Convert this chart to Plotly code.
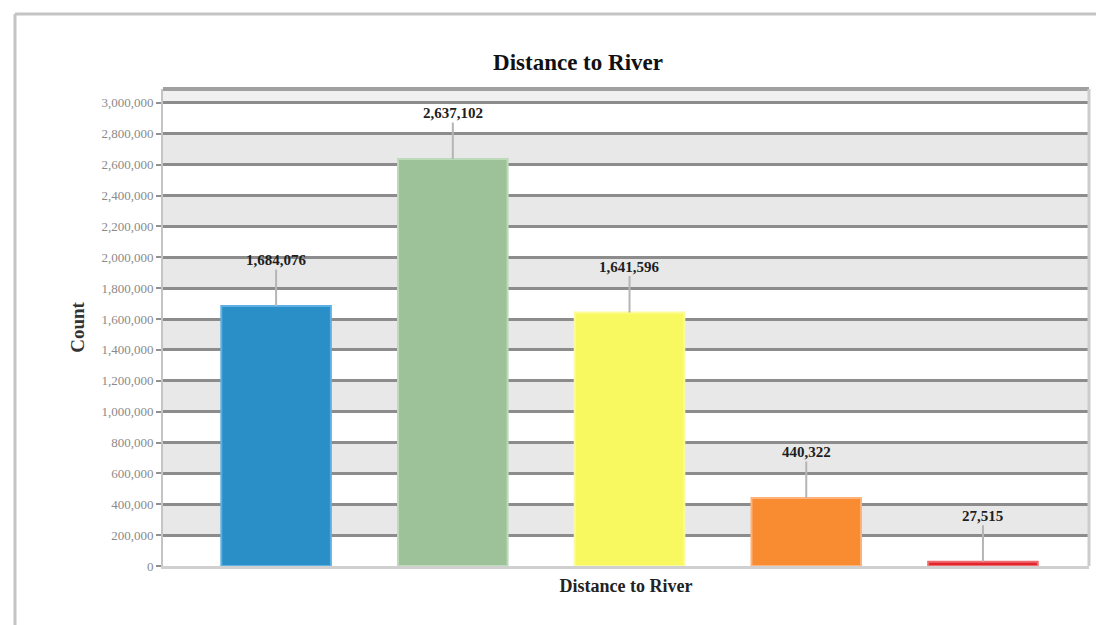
import plotly.graph_objects as go

# ---- data ----
categories = ["Class 1", "Class 2", "Class 3", "Class 4", "Class 5"]
counts = [1684076, 2637102, 1641596, 440322, 27515]
bar_colors = ["#2a8fc6", "#9dc29a", "#f8f860", "#f98c31", "#e0262c"]
edge_colors = ["#5cb0e2", "#bddbbb", "#fbfb9a", "#fdb37a", "#f06a6e"]
tick_vals = [0, 200000, 400000, 600000, 800000, 1000000, 1200000, 1400000,
             1600000, 1800000, 2000000, 2200000, 2400000, 2600000, 2800000, 3000000]
y_max = 3090000

W, H = 1096, 625
ML, MR, MT, MB = 163, 7, 89, 59

fig = go.Figure()
fig.add_trace(go.Bar(
    x=categories, y=counts, width=0.62,
    marker=dict(color=bar_colors, line=dict(color=edge_colors, width=2)),
    showlegend=False, hoverinfo="x+y",
))

shapes = []
# alternating light bands
for i in range(len(tick_vals) - 1):
    if i % 2 == 1:
        shapes.append(dict(type="rect", xref="paper", yref="y", x0=0, x1=1,
                           y0=tick_vals[i], y1=tick_vals[i + 1],
                           fillcolor="#e8e8e8", line=dict(width=0), layer="below"))
shapes.append(dict(type="rect", xref="paper", yref="y", x0=0, x1=1,
                   y0=tick_vals[-1], y1=y_max,
                   fillcolor="#f0f0f0", line=dict(width=0), layer="below"))
# plot frame: top and right
shapes.append(dict(type="line", xref="paper", yref="paper", x0=0, x1=1, y0=1, y1=1,
                   line=dict(color="#a0a0a0", width=4)))
shapes.append(dict(type="line", xref="paper", yref="paper", x0=1, x1=1, y0=0, y1=1,
                   line=dict(color="#cccccc", width=3)))
# outer card frame (left + top)
pw = W - ML - MR
ph = H - MT - MB
fx = (15 - ML) / pw
fy_top = 1 + (MT - 14) / ph
fy_bot = -(MB) / ph
shapes.append(dict(type="line", xref="paper", yref="paper", x0=fx, x1=fx,
                   y0=fy_bot, y1=fy_top, line=dict(color="#c4c4c4", width=3)))
shapes.append(dict(type="line", xref="paper", yref="paper", x0=fx, x1=1 + (MR + 10) / pw,
                   y0=fy_top, y1=fy_top, line=dict(color="#c4c4c4", width=3)))

annotations = []
for c, v in zip(categories, counts):
    annotations.append(dict(
        x=c, y=v, xref="x", yref="y", text=f"<b>{v:,}</b>",
        showarrow=True, arrowhead=0, arrowwidth=2, arrowcolor="#b5b5b5",
        ax=0, ay=-46, standoff=0,
        font=dict(family="Liberation Serif", size=15, color="#1e1e1e"),
    ))

fig.update_layout(
    width=W, height=H,
    margin=dict(l=ML, r=MR, t=MT, b=MB),
    paper_bgcolor="white", plot_bgcolor="white",
    title=dict(text="<b>Distance to River</b>", x=578 / W, xref="container", xanchor="center",
               y=1 - 62 / H, yref="container", yanchor="middle",
               font=dict(family="Liberation Serif", size=23, color="#111111")),
    xaxis=dict(range=[-0.64, 4.6], showticklabels=False, ticks="", showgrid=False,
               showline=True, linecolor="#d0d0d0", linewidth=3, zeroline=False,
               title=dict(text="<b>Distance to River</b>", standoff=12,
                          font=dict(family="Liberation Serif", size=18, color="#222222"))),
    yaxis=dict(range=[0, y_max], tickvals=tick_vals, tickformat=",d",
               showgrid=True, gridcolor="#8c8c8c", gridwidth=3, zeroline=False,
               showline=True, linecolor="#c4c4c4", linewidth=2,
               ticks="outside", ticklen=5, tickcolor="#909090", tickwidth=2,
               tickfont=dict(family="Liberation Serif", size=13, color="#8a8a8a"),
               title=dict(text="<b>Count</b>", standoff=12,
                          font=dict(family="Liberation Serif", size=19, color="#333333"))),
    shapes=shapes,
    annotations=annotations,
    bargap=0.4,
)

fig.write_html("out.html")
